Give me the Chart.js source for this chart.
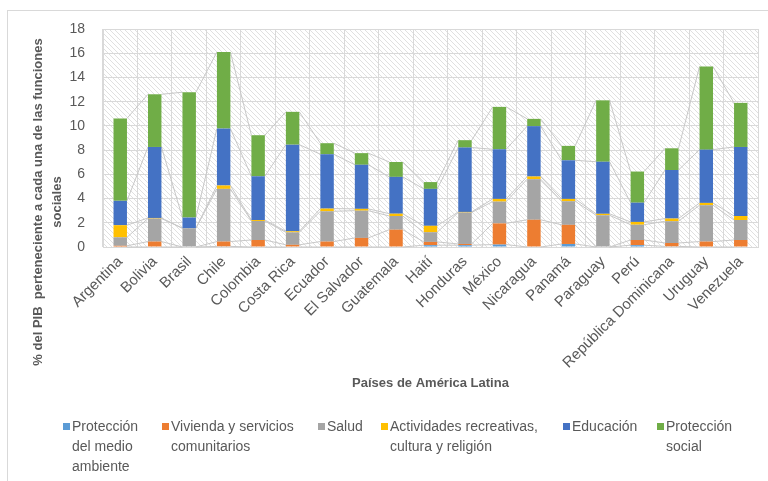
<!DOCTYPE html>
<html>
<head>
<meta charset="utf-8">
<script src="https://cdn.jsdelivr.net/npm/chart.js@4.4.1/dist/chart.umd.min.js"></script>
<style>
  body { margin: 0; background: #fff; }
  #caja { position: relative; width: 768px; height: 481px; overflow: hidden; }
  #marco { position: absolute; left: 7px; top: 10px; width: 800px; height: 500px;
           border-left: 1px solid #d9d9d9; border-top: 1px solid #d9d9d9; }
  #leyenda { position: absolute; left: 0; top: 416px; width: 768px; height: 65px;
             font-family: "Liberation Sans", Arial, sans-serif; font-size: 14px;
             line-height: 20px; color: #595959; }
  .item { position: absolute; top: 0; }
  .marca { position: absolute; top: 7px; width: 7px; height: 7px; }
</style>
</head>
<body>
<div id="caja">
  <div id="marco"></div>
  <canvas id="grafico"></canvas>
  <div id="leyenda"></div>
</div>
<script>
const paises = ['Argentina', 'Bolivia', 'Brasil', 'Chile', 'Colombia', 'Costa Rica', 'Ecuador',
  'El Salvador', 'Guatemala', 'Haití', 'Honduras', 'México', 'Nicaragua', 'Panamá', 'Paraguay',
  'Perú', 'República Dominicana', 'Uruguay', 'Venezuela'];

// % del PIB por funcion social
const medioAmbiente = [0, 0, 0, 0.05, 0, 0, 0, 0, 0, 0.15, 0.15, 0.2, 0, 0.25, 0, 0.15, 0.05, 0, 0];
const vivienda      = [0.1, 0.45, 0, 0.4, 0.58, 0.18, 0.45, 0.75, 1.43, 0.27, 0.1, 1.75, 2.25, 1.58, 0, 0.43, 0.28, 0.45, 0.58];
const salud         = [0.7, 1.9, 1.55, 4.35, 1.57, 1.03, 2.5, 2.25, 1.13, 0.8, 2.6, 1.8, 3.35, 1.95, 2.62, 1.26, 1.8, 3.0, 1.65];
const actividades   = [1.0, 0.05, 0, 0.28, 0.08, 0.09, 0.22, 0.15, 0.19, 0.53, 0.05, 0.22, 0.22, 0.19, 0.12, 0.23, 0.22, 0.19, 0.33];
const educacion     = [2.01, 5.86, 0.88, 4.7, 3.61, 7.15, 4.49, 3.64, 3.04, 3.05, 5.31, 4.1, 4.16, 3.19, 4.3, 1.59, 4.01, 4.4, 5.7];
const proteccion    = [6.81, 4.35, 10.35, 6.32, 3.39, 2.71, 0.91, 0.96, 1.23, 0.56, 0.61, 3.5, 0.6, 1.19, 5.07, 2.57, 1.79, 6.86, 3.64];

const nombres = ['Protección del medio ambiente', 'Vivienda y servicios comunitarios', 'Salud',
  'Actividades recreativas, cultura y religión', 'Educación', 'Protección social'];
const colores = ['#5b9bd5', '#ed7d31', '#a5a5a5', '#ffc000', '#4472c4', '#70ad47'];
const series = [medioAmbiente, vivienda, salud, actividades, educacion, proteccion];

const gris = '#595959';
const fuente = '"Liberation Sans", Arial, sans-serif';

// fondo rayado del area de trazado
const fondoRayado = {
  id: 'fondoRayado',
  beforeDraw(chart) {
    const a = chart.chartArea;
    const ctx = chart.ctx;
    const p = document.createElement('canvas');
    p.width = 5; p.height = 5;
    const pc = p.getContext('2d');
    pc.strokeStyle = '#e0e0e0';
    pc.lineWidth = 1;
    pc.beginPath();
    pc.moveTo(-1, -1); pc.lineTo(6, 6);
    pc.moveTo(-1, 4); pc.lineTo(1, 6);
    pc.moveTo(4, -1); pc.lineTo(6, 1);
    pc.stroke();
    ctx.save();
    ctx.fillStyle = ctx.createPattern(p, 'repeat');
    ctx.fillRect(a.left, a.top, a.right - a.left, a.bottom - a.top);
    ctx.restore();
  }
};

// lineas de serie entre barras (estilo Excel)
const lineasSerie = {
  id: 'lineasSerie',
  beforeDatasetsDraw(chart) {
    const ctx = chart.ctx;
    const y = chart.scales.y;
    ctx.save();
    ctx.strokeStyle = '#c8c8c8';
    ctx.lineWidth = 1;
    for (let d = 0; d < series.length; d++) {
      const meta = chart.getDatasetMeta(d);
      for (let i = 0; i < paises.length - 1; i++) {
        let s1 = 0, s2 = 0;
        for (let k = 0; k <= d; k++) { s1 += series[k][i]; s2 += series[k][i + 1]; }
        const b1 = meta.data[i], b2 = meta.data[i + 1];
        ctx.beginPath();
        ctx.moveTo(b1.x + b1.width / 2, y.getPixelForValue(s1));
        ctx.lineTo(b2.x - b2.width / 2, y.getPixelForValue(s2));
        ctx.stroke();
      }
    }
    ctx.restore();
  }
};

// titulos de ejes
const titulos = {
  id: 'titulos',
  afterDraw(chart) {
    const ctx = chart.ctx;
    ctx.save();
    ctx.fillStyle = gris;
    ctx.font = 'bold 13px ' + fuente;
    ctx.textAlign = 'center';
    ctx.textBaseline = 'middle';
    ctx.fillText('Países de América Latina', (chart.chartArea.left + chart.chartArea.right) / 2, 383);
    ctx.translate(38, 202);
    ctx.rotate(-Math.PI / 2);
    ctx.fillText('% del PIB  perteneciente a cada una de las funciones', 0, 0);
    ctx.fillText('sociales', 0, 19);
    ctx.restore();
  }
};

const ctx = document.getElementById('grafico').getContext('2d');
new Chart(ctx, {
  type: 'bar',
  data: {
    labels: paises,
    datasets: series.map((s, i) => ({
      label: nombres[i],
      data: s,
      backgroundColor: colores[i],
      barPercentage: 0.39,
      categoryPercentage: 1
    }))
  },
  options: {
    responsive: true,
    maintainAspectRatio: false,
    animation: false,
    layout: { padding: { left: 0, top: 29, right: 10, bottom: 0 } },
    plugins: {
      legend: { display: false },
      tooltip: { enabled: false }
    },
    scales: {
      x: {
        stacked: true,
        afterFit: s => { s.height = 234; },
        grid: { color: '#d9d9d9', drawTicks: false },
        border: { color: '#d9d9d9' },
        ticks: {
          color: gris, font: { family: fuente, size: 15 },
          minRotation: 45, maxRotation: 45, autoSkip: false, padding: 6
        }
      },
      y: {
        stacked: true,
        min: 0, max: 18,
        afterFit: s => { s.width = 103; },
        grid: { color: '#d9d9d9', drawTicks: false },
        border: { color: '#d9d9d9' },
        ticks: { stepSize: 2, color: gris, font: { family: fuente, size: 14 }, padding: 18 }
      }
    }
  },
  plugins: [fondoRayado, lineasSerie, titulos]
});

// leyenda en HTML
const posLeyenda = [63, 162, 318, 381, 563, 657];
const anchoTexto = [76, 135, 50, 165, 72, 72];
const leyenda = document.getElementById('leyenda');
nombres.forEach((n, i) => {
  const it = document.createElement('div');
  it.className = 'item';
  it.style.left = posLeyenda[i] + 'px';
  const m = document.createElement('span');
  m.className = 'marca';
  m.style.left = '0px';
  m.style.background = colores[i];
  const t = document.createElement('div');
  t.style.marginLeft = '9px';
  t.style.width = anchoTexto[i] + 'px';
  t.textContent = n;
  it.appendChild(m);
  it.appendChild(t);
  leyenda.appendChild(it);
});
</script>
</body>
</html>
